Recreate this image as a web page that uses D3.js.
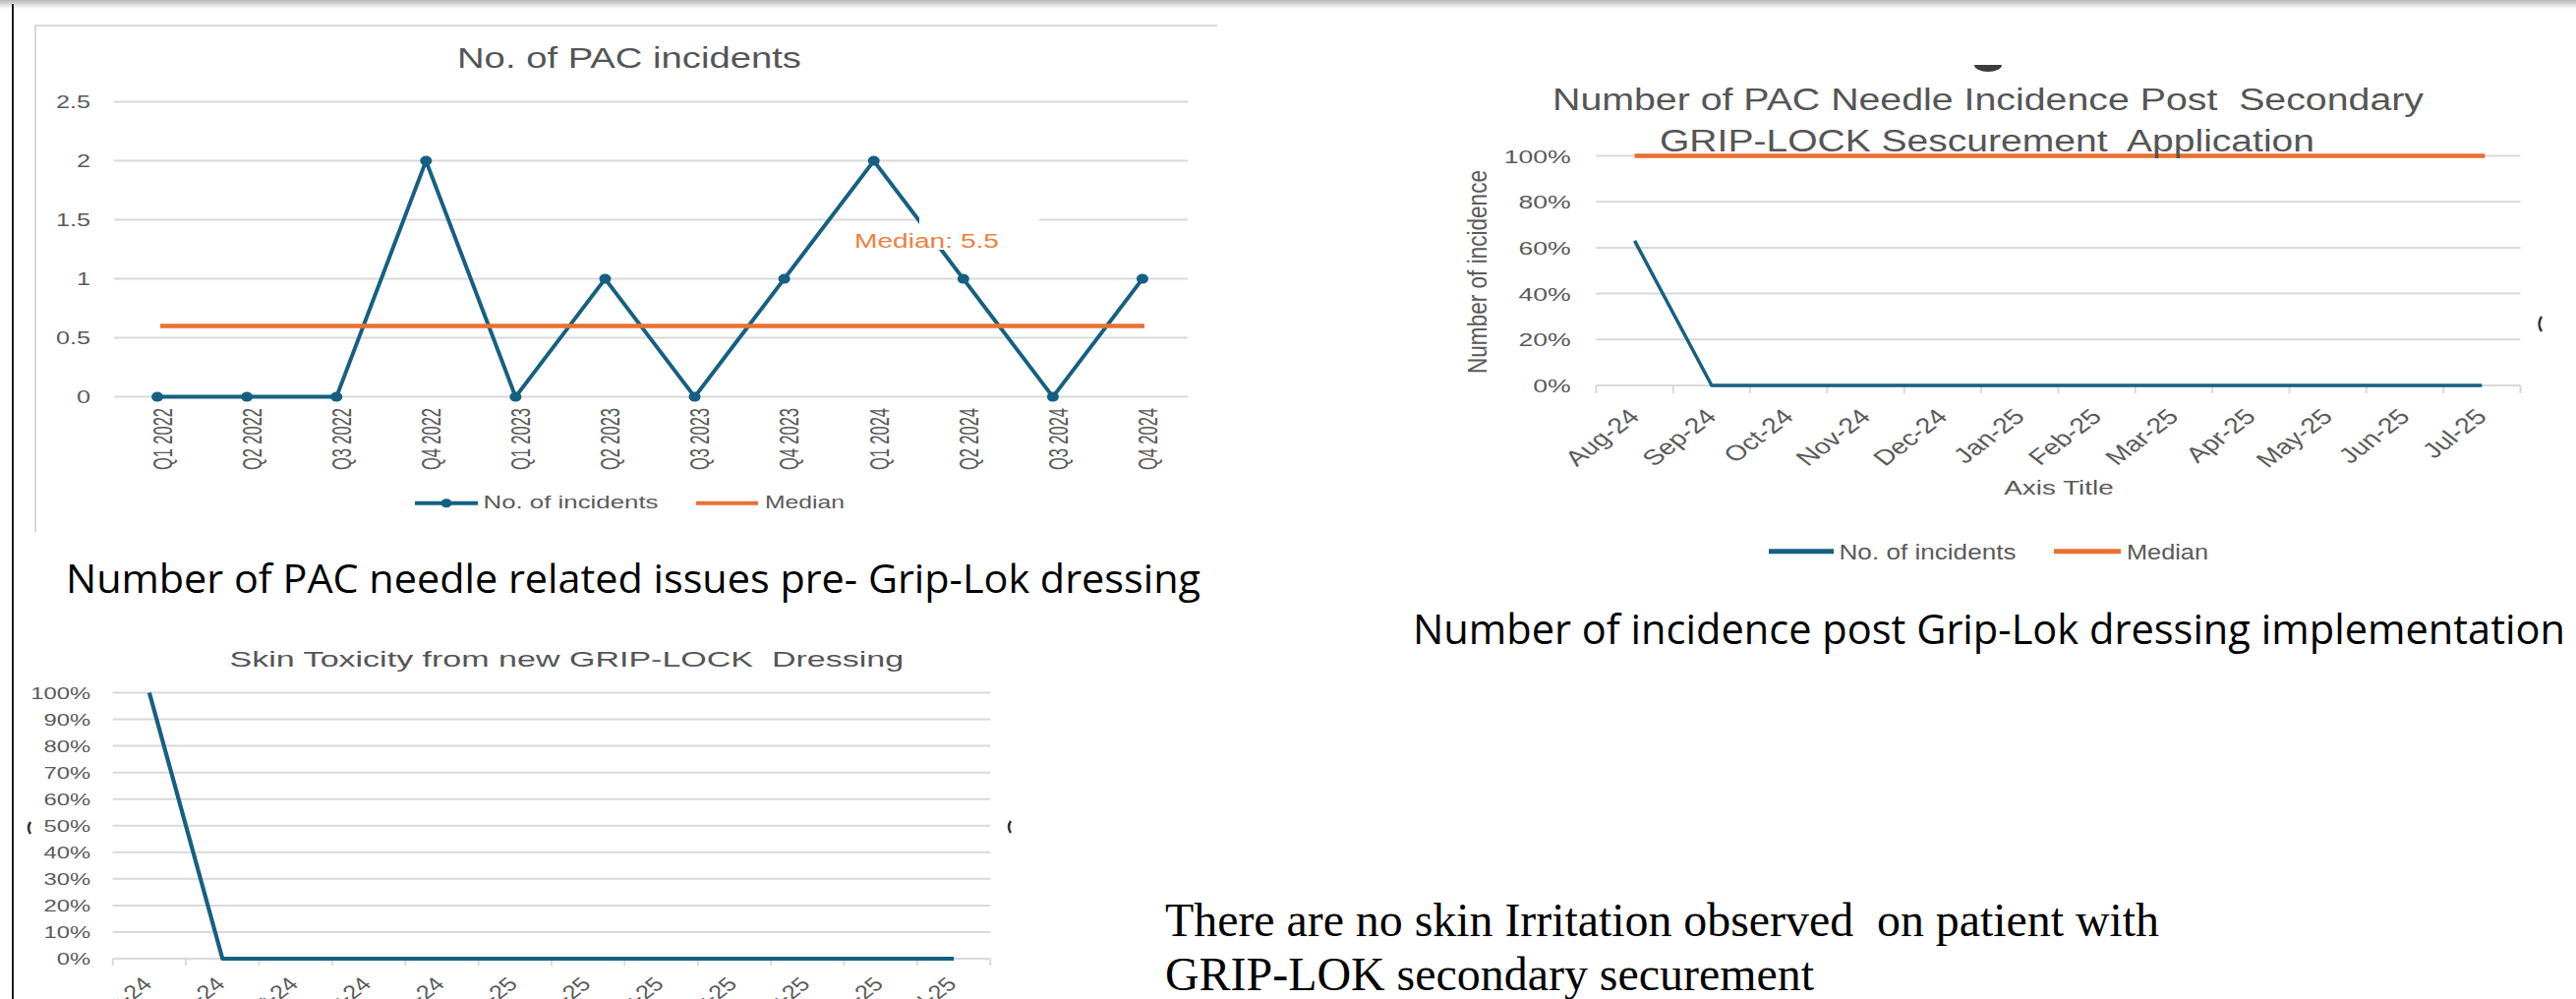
<!DOCTYPE html>
<html>
<head>
<meta charset="utf-8">
<script src="https://cdn.jsdelivr.net/npm/d3@7"></script>
<style>
  html, body { margin: 0; padding: 0; background: #fff; }
  text { white-space: pre; }
</style>
</head>
<body>
<div id="chart"></div>
<script>
// chart values
const quarters = ['Q1 2022', 'Q2 2022', 'Q3 2022', 'Q4 2022', 'Q1 2023', 'Q2 2023',
  'Q3 2023', 'Q4 2023', 'Q1 2024', 'Q2 2024', 'Q3 2024', 'Q4 2024'];
const pacIncidents = [0, 0, 0, 2, 0, 1, 0, 1, 2, 1, 0, 1];
const pacMedian = 0.6;
const pacTicks = [0, 0.5, 1, 1.5, 2, 2.5];

const months = ['Aug-24', 'Sep-24', 'Oct-24', 'Nov-24', 'Dec-24', 'Jan-25',
  'Feb-25', 'Mar-25', 'Apr-25', 'May-25', 'Jun-25', 'Jul-25'];
const postIncidents = [0.63, 0, 0, 0, 0, 0, 0, 0, 0, 0, 0, 0];
const postMedian = 1;
const postTicks = [0, 0.2, 0.4, 0.6, 0.8, 1];

const skinToxicity = [1, 0, 0, 0, 0, 0, 0, 0, 0, 0, 0, 0];
const skinTicks = [0, 0.1, 0.2, 0.3, 0.4, 0.5, 0.6, 0.7, 0.8, 0.9, 1];

const SANS = "'Liberation Sans', Arial, sans-serif";
const TEXT = '#5a5a5a';
const GRID = '#d9d9d9';
const BLUE = '#156082';
const ORANGE = '#E97132';

const svg = d3.select('#chart').append('svg')
  .attr('width', 2620).attr('height', 1016)
  .style('display', 'block');

// small text helper: translate, optional horizontal stretch, optional rotation
function label(g, x, y, str, o = {}) {
  let tf = `translate(${x},${y})`;
  if (o.sx) tf += ` scale(${o.sx},1)`;
  if (o.rot) tf += ` rotate(${o.rot})`;
  const t = g.append('text')
    .attr('transform', tf)
    .attr('font-family', o.family || SANS)
    .attr('font-size', o.size || 16)
    .attr('fill', o.color || TEXT)
    .attr('text-anchor', o.anchor || 'start')
    .text(str);
  if (o.dy) t.attr('dy', o.dy);
  if (o.len) t.attr('textLength', o.len).attr('lengthAdjust', 'spacingAndGlyphs');
  return t;
}

function grid(g, y, ticks, x0, x1) {
  g.append('g').selectAll('line').data(ticks).join('line')
    .attr('x1', x0).attr('x2', x1)
    .attr('y1', d => y(d)).attr('y2', d => y(d))
    .attr('stroke', GRID).attr('stroke-width', 2);
}

function leftAxis(g, y, ticks, fmt, xPos, size, sx) {
  const a = g.append('g').attr('transform', `translate(${xPos},0)`)
    .call(d3.axisLeft(y).tickValues(ticks).tickFormat(fmt).tickSize(0));
  a.select('.domain').remove();
  a.selectAll('.tick text')
    .attr('x', 0).attr('dy', '0.35em')
    .attr('transform', `scale(${sx},1)`)
    .attr('fill', TEXT).attr('font-family', SANS).attr('font-size', size);
}

function bottomAxis(g, x, y0, o) {
  const a = g.append('g').attr('transform', `translate(0,${y0})`)
    .call(d3.axisBottom(x).tickSize(0));
  a.select('.domain').remove();
  const t = a.selectAll('.tick text')
    .attr('x', 0).attr('y', 0).attr('dy', o.dyEm)
    .attr('text-anchor', 'end')
    .attr('transform', `translate(${o.dx},${o.dy}) scale(${o.sx},1) rotate(${o.rot})`)
    .attr('fill', TEXT).attr('font-family', SANS).attr('font-size', o.size);
  if (o.len) t.attr('textLength', o.len).attr('lengthAdjust', 'spacingAndGlyphs');
}

function tickMarks(g, x, y0, len) {
  const edges = x.domain().map(d => x(d)).concat([x.range()[1]]);
  g.append('g').selectAll('line').data(edges).join('line')
    .attr('x1', d => d).attr('x2', d => d)
    .attr('y1', y0).attr('y2', y0 + len)
    .attr('stroke', GRID).attr('stroke-width', 2);
}

function legendLine(g, x0, x1, y, color, width) {
  g.append('line').attr('x1', x0).attr('x2', x1).attr('y1', y).attr('y2', y)
    .attr('stroke', color).attr('stroke-width', width);
}

// page decoration: top shadow band and left rule
const defs = svg.append('defs');
const shade = defs.append('linearGradient').attr('id', 'shade')
  .attr('x1', 0).attr('y1', 0).attr('x2', 0).attr('y2', 1);
shade.append('stop').attr('offset', '0%').attr('stop-color', '#b8b8b8');
shade.append('stop').attr('offset', '100%').attr('stop-color', '#ffffff');
svg.append('rect').attr('x', 0).attr('y', 0).attr('width', 2620).attr('height', 9)
  .attr('fill', 'url(#shade)');
svg.append('line').attr('x1', 13).attr('x2', 13).attr('y1', 4).attr('y2', 1016)
  .attr('stroke', '#1e1e1e').attr('stroke-width', 2);

// ---------- chart 1: No. of PAC incidents ----------
(function drawPac() {
  const g = svg.append('g');
  g.append('path').attr('d', 'M36,541 V26 H1238')
    .attr('fill', 'none').attr('stroke', GRID).attr('stroke-width', 2);

  const x = d3.scaleBand().domain(quarters).range([114.5, 1207.5]);
  const cx = d => x(d) + x.bandwidth() / 2;
  const y = d3.scaleLinear().domain([0, 2.5]).range([403.6, 103.6]);

  grid(g, y, pacTicks, 116, 1208);
  leftAxis(g, y, pacTicks, d => String(d), 92, 18, 1.4);
  bottomAxis(g, x, y(0), { dx: 5, dy: 11.5, sx: 1.4, rot: -90, dyEm: '0.36em', size: 19.5, len: 63 });

  const pts = quarters.map((q, i) => ({ q, v: pacIncidents[i] }));
  g.append('path').datum(pts)
    .attr('fill', 'none').attr('stroke', BLUE).attr('stroke-width', 4)
    .attr('stroke-linejoin', 'round')
    .attr('d', d3.line().x(d => cx(d.q)).y(d => y(d.v)));
  g.append('g').selectAll('ellipse').data(pts).join('ellipse')
    .attr('cx', d => cx(d.q)).attr('cy', d => y(d.v)).attr('rx', 6).attr('ry', 5)
    .attr('fill', BLUE);

  g.append('line')
    .attr('x1', cx(quarters[0]) + 3).attr('x2', cx(quarters[quarters.length - 1]) + 2)
    .attr('y1', y(pacMedian)).attr('y2', y(pacMedian))
    .attr('stroke', ORANGE).attr('stroke-width', 4.5);

  // data label box for the median
  g.append('rect').attr('x', 935).attr('y', 221).attr('width', 122).attr('height', 33)
    .attr('fill', '#fff');
  label(g, 869, 251.5, 'Median: 5.5', { size: 20, color: '#EE8040', len: 147 });

  label(g, 640, 69, 'No. of PAC incidents', { size: 29, anchor: 'middle', len: 350, color: '#555' });

  legendLine(g, 422, 486, 511.7, BLUE, 4);
  g.append('ellipse').attr('cx', 454).attr('cy', 511.7).attr('rx', 5.5).attr('ry', 4.5).attr('fill', BLUE);
  label(g, 491.5, 517, 'No. of incidents', { size: 19, len: 178 });
  legendLine(g, 708, 771, 511.7, ORANGE, 4);
  label(g, 778, 517, 'Median', { size: 19, len: 81 });
})();

// ---------- chart 2: post secondary GRIP-LOCK securement ----------
(function drawPost() {
  const g = svg.append('g');
  const x = d3.scaleBand().domain(months).range([1623.4, 2563.5]);
  const cx = d => x(d) + x.bandwidth() / 2;
  const y = d3.scaleLinear().domain([0, 1]).range([392, 158.5]);

  grid(g, y, postTicks, 1623.4, 2563.5);
  tickMarks(g, x, y(0), 8);
  leftAxis(g, y, postTicks, d3.format('.0%'), 1597.7, 19, 1.4);
  bottomAxis(g, x, y(0), { dx: 6.4, dy: 33, sx: 1.3, rot: -45, dyEm: 0, size: 22 });

  g.append('path').datum(months.map((m, i) => ({ m, v: postIncidents[i] })))
    .attr('fill', 'none').attr('stroke', BLUE).attr('stroke-width', 3.5)
    .attr('stroke-linejoin', 'round')
    .attr('d', d3.line().x(d => cx(d.m)).y(d => y(d.v)));

  g.append('line')
    .attr('x1', cx(months[0])).attr('x2', cx(months[months.length - 1]) + 3)
    .attr('y1', y(postMedian)).attr('y2', y(postMedian))
    .attr('stroke', ORANGE).attr('stroke-width', 4.5);

  label(g, 2022, 112, 'Number of PAC Needle Incidence Post  Secondary', { size: 31, anchor: 'middle', len: 886, color: '#555' });
  label(g, 2021, 153.5, 'GRIP-LOCK Sescurement  Application', { size: 31, anchor: 'middle', len: 666, color: '#555' });

  label(g, 1502, 276.5, 'Number of incidence', { size: 22, anchor: 'middle', rot: -90, sx: 1.25, dy: '0.35em', len: 207 });
  label(g, 2094, 503, 'Axis Title', { size: 21, anchor: 'middle', len: 111.5 });

  legendLine(g, 1799, 1865, 560.7, BLUE, 5);
  label(g, 1870.5, 568.5, 'No. of incidents', { size: 22, len: 180 });
  legendLine(g, 2089, 2157, 560.7, ORANGE, 5);
  label(g, 2163, 568.5, 'Median', { size: 22, len: 83 });

  // cropped fragments left over in the picture
  g.append('path').attr('d', 'M2008,66 A14,7 0 0 0 2036,66 Z').attr('fill', '#3c3c3c');
  g.append('path').attr('d', 'M2585,322 Q2580,329.5 2585,337')
    .attr('fill', 'none').attr('stroke', '#333').attr('stroke-width', 2.5);
})();

// ---------- chart 3: skin toxicity ----------
(function drawSkin() {
  const g = svg.append('g');
  const x = d3.scaleBand().domain(months).range([114.7, 1007.3]);
  const cx = d => x(d) + x.bandwidth() / 2;
  const y = d3.scaleLinear().domain([0, 1]).range([975, 704.5]);

  grid(g, y, skinTicks, 114.7, 1007.3);
  tickMarks(g, x, y(0), 7);
  leftAxis(g, y, skinTicks, d3.format('.0%'), 92.1, 17, 1.4);
  bottomAxis(g, x, y(0), { dx: 4, dy: 27, sx: 1.3, rot: -45, dyEm: 0, size: 19.5 });

  g.append('path').datum(months.map((m, i) => ({ m, v: skinToxicity[i] })))
    .attr('fill', 'none').attr('stroke', BLUE).attr('stroke-width', 4.2)
    .attr('stroke-linejoin', 'round')
    .attr('d', d3.line().x(d => cx(d.m)).y(d => y(d.v)));

  label(g, 576.4, 678, 'Skin Toxicity from new GRIP-LOCK  Dressing', { size: 22, anchor: 'middle', len: 685.6, color: '#555' });

  g.append('path').attr('d', 'M31,836 Q27,842 31,848')
    .attr('fill', 'none').attr('stroke', '#333').attr('stroke-width', 2.5);
  g.append('path').attr('d', 'M1028,835 Q1024,841 1028,847')
    .attr('fill', 'none').attr('stroke', '#333').attr('stroke-width', 2.5);
})();

// ---------- captions ----------
const notes = svg.append('g');
label(notes, 67, 603, 'Number of PAC needle related issues pre- Grip-Lok dressing',
  { family: "'Open Sans', 'Noto Sans', sans-serif", size: 40, color: '#000', len: 1154 });
label(notes, 1437, 655, 'Number of incidence post Grip-Lok dressing implementation',
  { family: "'Open Sans', 'Noto Sans', sans-serif", size: 42, color: '#000', len: 1172 });
label(notes, 1185, 952, 'There are no skin Irritation observed  on patient with',
  { family: "'Liberation Serif', 'DejaVu Serif', serif", size: 48, color: '#000', len: 1011 });
label(notes, 1185, 1007, 'GRIP-LOK secondary securement',
  { family: "'Liberation Serif', 'DejaVu Serif', serif", size: 48, color: '#000', len: 660 });
</script>
</body>
</html>
